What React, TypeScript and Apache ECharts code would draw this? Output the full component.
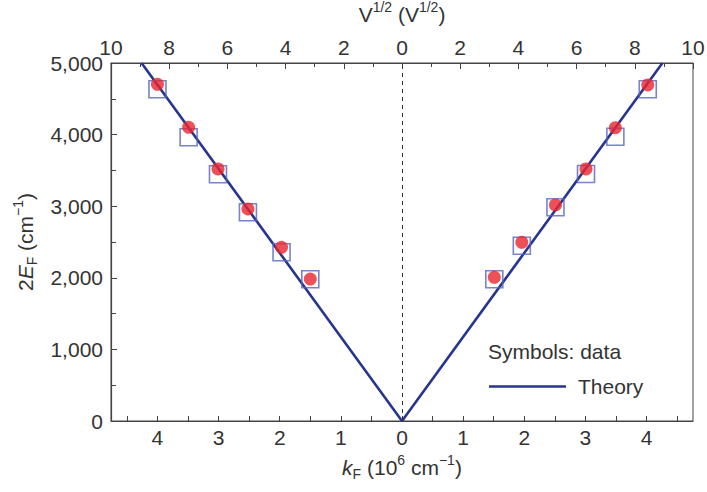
import React, { useEffect, useRef } from "react";
import * as echarts from "echarts";

// Fermi wave vector positions (10^6 cm^-1) of the measured points
const K_F = [-4.0, -3.49, -3.01, -2.52, -1.97, -1.5, 1.51, 1.96, 2.51, 3.01, 3.49, 4.02];
// 2E_F (cm^-1) — filled circles
const CIRCLES = [4703, 4102, 3520, 2961, 2426, 1983, 2007, 2496, 3017, 3520, 4096, 4693];
// 2E_F (cm^-1) — open squares
const SQUARES = [4633, 3962, 3446, 2915, 2356, 1979, 1979, 2448, 2985, 3450, 3971, 4633];
// Theory curve (linear dispersion)
const THEORY_K = [-4.26, 0, 4.26];
const THEORY_E = [5000, 0, 5000];

// Axis ticks
const K_LABELS = [-4, -3, -2, -1, 0, 1, 2, 3, 4];
const K_TICKS = [-4.5, -4, -3.5, -3, -2.5, -2, -1.5, -1, -0.5, 0, 0.5, 1, 1.5, 2, 2.5, 3, 3.5, 4, 4.5];

const FONT = '"Liberation Sans", Arial, sans-serif';
const FS = 21;
const AXIS_COLOR = "#444";
const TEXT_COLOR = "#333";
const LINE_BLUE = "#28358f";

const absLabel = (v: number) => String(Math.abs(Math.round(v * 100) / 100));

// Rich-text styles for axis titles: italic symbols, subscripts and superscripts
const richBase = {
  i: { fontStyle: "italic", fontSize: FS, lineHeight: 28, fontFamily: FONT, color: TEXT_COLOR },
  sub: { fontSize: 14, lineHeight: 15, fontFamily: FONT, color: TEXT_COLOR, verticalAlign: "bottom" },
  sup: { fontSize: 14, lineHeight: 18, fontFamily: FONT, color: TEXT_COLOR, verticalAlign: "top" },
};
const titleStyle = { fontSize: FS, lineHeight: 28, color: TEXT_COLOR, fontFamily: FONT, rich: richBase };

export default function App() {
  const ref = useRef<HTMLDivElement>(null);

  useEffect(() => {
    if (!ref.current) return;
    const chart = echarts.init(ref.current, null, { renderer: "svg" });

    const option: any = {
      animation: false,
      backgroundColor: "#fff",
      textStyle: { fontFamily: FONT, color: TEXT_COLOR },
      grid: {
        left: 111,
        right: 14,
        top: 63,
        bottom: 71,
        outerBoundsMode: "none",
        containLabel: false,
        show: true,
        borderColor: AXIS_COLOR,
        borderWidth: 1,
      },
      legend: {
        data: [{ name: "Theory", icon: "rect" }],
        left: 489,
        top: 376,
        itemWidth: 77,
        itemHeight: 2.6,
        itemGap: 0,
        padding: 0,
        textStyle: { fontSize: FS, color: TEXT_COLOR, fontFamily: FONT, padding: [0, 0, 0, 7] },
        selectedMode: false,
      },
      graphic: [
        {
          type: "text",
          left: 488,
          top: 341,
          style: { text: "Symbols: data", fontSize: FS, fontFamily: FONT, fill: TEXT_COLOR },
        },
      ],
      xAxis: [
        {
          type: "value",
          position: "bottom",
          min: -4.76,
          max: 4.76,
          axisLine: { show: true, onZero: false, lineStyle: { color: AXIS_COLOR, width: 1.2 } },
          axisTick: { show: true, inside: true, length: 5, customValues: K_TICKS, lineStyle: { color: AXIS_COLOR } },
          axisLabel: {
            customValues: K_LABELS,
            formatter: absLabel,
            margin: 6,
            fontSize: FS,
            color: TEXT_COLOR,
            fontFamily: FONT,
          },
          splitLine: { show: false },
          name: "{i|k}{sub|F} (10{sup|6} cm{sup|−1})",
          nameLocation: "middle",
          nameGap: 32,
          nameTextStyle: titleStyle,
        },
        {
          type: "value",
          position: "top",
          min: -10,
          max: 10,
          interval: 2,
          axisLine: { show: true, onZero: false, lineStyle: { color: AXIS_COLOR, width: 1.2 } },
          axisTick: { show: true, inside: true, length: 6, lineStyle: { color: AXIS_COLOR } },
          minorTick: { show: true, splitNumber: 2, length: 4, lineStyle: { color: AXIS_COLOR } },
          axisLabel: { formatter: absLabel, margin: 5, fontSize: FS, color: TEXT_COLOR, fontFamily: FONT },
          splitLine: { show: false },
          name: "V{sup|1/2} (V{sup|1/2})",
          nameLocation: "middle",
          nameGap: 35,
          nameTextStyle: titleStyle,
        },
      ],
      yAxis: {
        type: "value",
        min: 0,
        max: 5000,
        interval: 1000,
        axisLine: { show: true, onZero: false, lineStyle: { color: AXIS_COLOR, width: 1.2 } },
        axisTick: { show: true, inside: true, length: 6, lineStyle: { color: AXIS_COLOR } },
        minorTick: { show: true, splitNumber: 2, length: 5, lineStyle: { color: AXIS_COLOR } },
        axisLabel: {
          formatter: (v: number) => v.toLocaleString("en-US"),
          margin: 8,
          fontSize: FS,
          color: TEXT_COLOR,
          fontFamily: FONT,
        },
        splitLine: { show: false },
        name: "2{i|E}{sub|F} (cm{sup|−1})",
        nameLocation: "middle",
        nameRotate: 90,
        nameGap: 72,
        nameTextStyle: titleStyle,
      },
      series: [
        {
          name: "Theory",
          type: "line",
          xAxisIndex: 0,
          data: THEORY_K.map((k, i) => [k, THEORY_E[i]]),
          symbol: "none",
          lineStyle: { color: LINE_BLUE, width: 2.6 },
          itemStyle: { color: LINE_BLUE },
          z: 2,
          markLine: {
            silent: true,
            symbol: "none",
            label: { show: false },
            lineStyle: { color: "#333", type: [4, 4], width: 1 },
            data: [{ xAxis: 0 }],
          },
        },
        {
          name: "Squares",
          type: "scatter",
          xAxisIndex: 0,
          data: K_F.map((k, i) => [k, SQUARES[i]]),
          symbol: "rect",
          symbolSize: 17,
          itemStyle: { color: "rgba(255,255,255,0)", borderColor: "#5565bd", borderWidth: 1.6 },
          z: 3,
        },
        {
          name: "Circles",
          type: "scatter",
          xAxisIndex: 0,
          data: K_F.map((k, i) => [k, CIRCLES[i]]),
          symbol: "circle",
          symbolSize: 13,
          itemStyle: { color: "#e8262d" },
          z: 4,
        },
      ],
    };

    chart.setOption(option);
    return () => chart.dispose();
  }, []);

  return <div ref={ref} style={{ width: 707, height: 492, position: "absolute", left: 0, top: 0 }} />;
}
